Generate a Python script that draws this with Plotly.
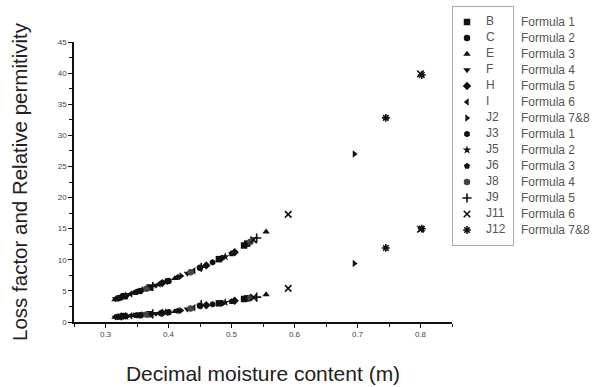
import plotly.graph_objects as go

# ---- data ----
samples  = ["B", "C", "E", "F", "H", "I", "J2", "J3", "J5", "J6", "J8", "J9", "J11", "J12"]
formulas = ["Formula 1", "Formula 2", "Formula 3", "Formula 4", "Formula 5", "Formula 6", "Formula 7&8",
            "Formula 1", "Formula 2", "Formula 3", "Formula 4", "Formula 5", "Formula 6", "Formula 7&8"]

sample_of = ["B", "B", "B", "B", "B",
             "C", "C", "C", "C",
             "E", "E", "E", "E",
             "F", "F", "F", "F",
             "H", "H", "H", "H",
             "I", "I", "I",
             "J2", "J2", "J2",
             "J3", "J3", "J3",
             "J5", "J5", "J5",
             "J6", "J6", "J6",
             "J8", "J8", "J8",
             "J9", "J9", "J9",
             "J11", "J11", "J11",
             "J12", "J12"]
moisture = [0.330, 0.370, 0.480, 0.520, 0.525,
            0.320, 0.355, 0.400, 0.450,
            0.315, 0.345, 0.410, 0.555,
            0.316, 0.335, 0.380, 0.430,
            0.325, 0.390, 0.460, 0.505,
            0.340, 0.385, 0.440,
            0.360, 0.420, 0.695,
            0.350, 0.470, 0.485,
            0.332, 0.395, 0.490,
            0.348, 0.415, 0.500,
            0.365, 0.435, 0.530,
            0.375, 0.452, 0.540,
            0.535, 0.590, 0.800,
            0.745, 0.802]
permittivity = [4.15, 5.55, 10.1, 12.3, 12.6,
                3.8, 5.0, 6.6, 8.7,
                3.6, 4.65, 7.0, 14.5,
                3.7, 4.3, 5.9, 7.8,
                4.0, 6.25, 9.1, 11.2,
                4.5, 6.1, 8.25,
                5.2, 7.4, 27.0,
                4.85, 9.6, 10.3,
                4.2, 6.45, 10.5,
                4.75, 7.2, 11.0,
                5.35, 8.0, 12.9,
                5.7, 8.8, 13.5,
                13.2, 17.3, 39.9,
                32.8, 39.7]
loss_factor = [0.95, 1.25, 3.0, 3.7, 3.8,
               0.85, 1.1, 1.55, 2.6,
               0.8, 1.05, 1.7, 4.4,
               0.75, 0.95, 1.35, 2.05,
               0.9, 1.45, 2.7, 3.4,
               1.0, 1.4, 2.3,
               1.15, 1.85, 9.4,
               1.1, 2.85, 3.05,
               0.95, 1.5, 3.15,
               1.05, 1.8, 3.3,
               1.2, 2.15, 3.9,
               1.3, 2.8, 4.0,
               3.95, 5.4, 14.9,
               11.9, 15.0]

x_ticks = [0.3, 0.4, 0.5, 0.6, 0.7, 0.8]
y_ticks = [0, 5, 10, 15, 20, 25, 30, 35, 40, 45]

# ---- styles ----
symbols = ["square", "circle", "triangle-up", "triangle-down", "diamond", "triangle-left",
           "triangle-right", "hexagon", "star", "pentagon", "circle", "cross-thin-open",
           "x-thin-open", "asterisk-open"]
fills = ["#111"] * 10 + ["#444", "#111", "#111", "#111"]
font_family = "Liberation Sans, Arial, sans-serif"
leg_font = dict(family=font_family, size=12, color="#555")

# ---- geometry (pixels) ----
W, H = 599, 387
L, R, T, B = 74, 2, 7, 65
pw, ph = W - L - R, H - T - B
plot_right, plot_top = 452, 42
box_left, box_right, box_top, box_bottom = 453, 513, 7, 245
row_h = 16
first_row = 22
mark_dx, name_dx, formula_x = 14, 33, 521

main_xdom = [0, (plot_right - L) / pw]
main_ydom = [0, (H - B - plot_top) / ph]
leg_xdom = [(box_left - L) / pw, (box_right - L) / pw]
leg_ydom = [(H - B - box_bottom) / ph, 1]

n = len(samples)
leg_w = box_right - box_left
top_idx = -(first_row - box_top) / row_h
bot_idx = top_idx + (box_bottom - box_top) / row_h

fig = go.Figure()
for i, s in enumerate(samples):
    xs = [m for m, sm in zip(moisture, sample_of) if sm == s]
    ep = [p for p, sm in zip(permittivity, sample_of) if sm == s]
    lf = [l for l, sm in zip(loss_factor, sample_of) if sm == s]
    mk = dict(symbol=symbols[i], size=6.5, color=fills[i],
              line=dict(width=1.6 if symbols[i].endswith("open") else 0, color=fills[i]))
    fig.add_trace(go.Scatter(x=xs + xs, y=ep + lf, mode="markers", name=s,
                             marker=mk, showlegend=False))
    # legend key marker
    fig.add_trace(go.Scatter(x=[mark_dx], y=[i], mode="markers", marker=mk,
                             xaxis="x2", yaxis="y2", showlegend=False, hoverinfo="skip"))

fig.add_trace(go.Scatter(x=[name_dx] * n, y=list(range(n)), mode="text", text=samples,
                         textposition="middle right", cliponaxis=False,
                         textfont=leg_font,
                         xaxis="x2", yaxis="y2", showlegend=False, hoverinfo="skip"))

annotations = [dict(x=(formula_x - L) / pw, y=i, xref="paper", yref="y2", text=f, showarrow=False,
                    xanchor="left", yanchor="middle", xshift=-2, font=leg_font)
               for i, f in enumerate(formulas)]

fig.update_layout(
    width=W, height=H,
    margin=dict(l=L, r=R, t=T, b=B),
    paper_bgcolor="white", plot_bgcolor="white",
    font=dict(family=font_family, color="#222"),
    showlegend=False,
    annotations=annotations,
    xaxis=dict(domain=main_xdom, range=[0.25, 0.85], tickvals=x_ticks, ticktext=[str(v) for v in x_ticks],
               ticks="outside", ticklen=4, tickwidth=1, tickcolor="#111",
               minor=dict(ticks="outside", ticklen=3, dtick=0.05, tickcolor="#111"),
               showline=True, linecolor="#111", linewidth=1.5, showgrid=False, zeroline=False,
               tickfont=dict(size=8, color="#444"),
               title=dict(text="Decimal moisture content (m)", font=dict(size=21, color="#222"), standoff=28)),
    yaxis=dict(domain=main_ydom, range=[0, 45], tickvals=y_ticks, ticks="outside", ticklen=4, tickwidth=1,
               tickcolor="#111",
               minor=dict(ticks="outside", ticklen=3, dtick=2.5, tickcolor="#111"),
               showline=True, linecolor="#111", linewidth=1.5, showgrid=False, zeroline=False,
               tickfont=dict(size=8, color="#444"),
               title=dict(text="Loss factor and Relative permitivity", font=dict(size=20.5, color="#222"), standoff=25)),
    xaxis2=dict(domain=leg_xdom, range=[0, leg_w], anchor="y2", showline=True, mirror=True,
                linecolor="#aaa", linewidth=1, showgrid=False, zeroline=False, showticklabels=False,
                ticks="", fixedrange=True),
    yaxis2=dict(domain=leg_ydom, range=[bot_idx, top_idx], anchor="x2", showline=True, mirror=True,
                linecolor="#aaa", linewidth=1, showgrid=False, zeroline=False, showticklabels=False,
                ticks="", fixedrange=True),
)

fig.write_html("out.html", config={"displayModeBar": False},
               post_script="document.body.style.margin='0';")
